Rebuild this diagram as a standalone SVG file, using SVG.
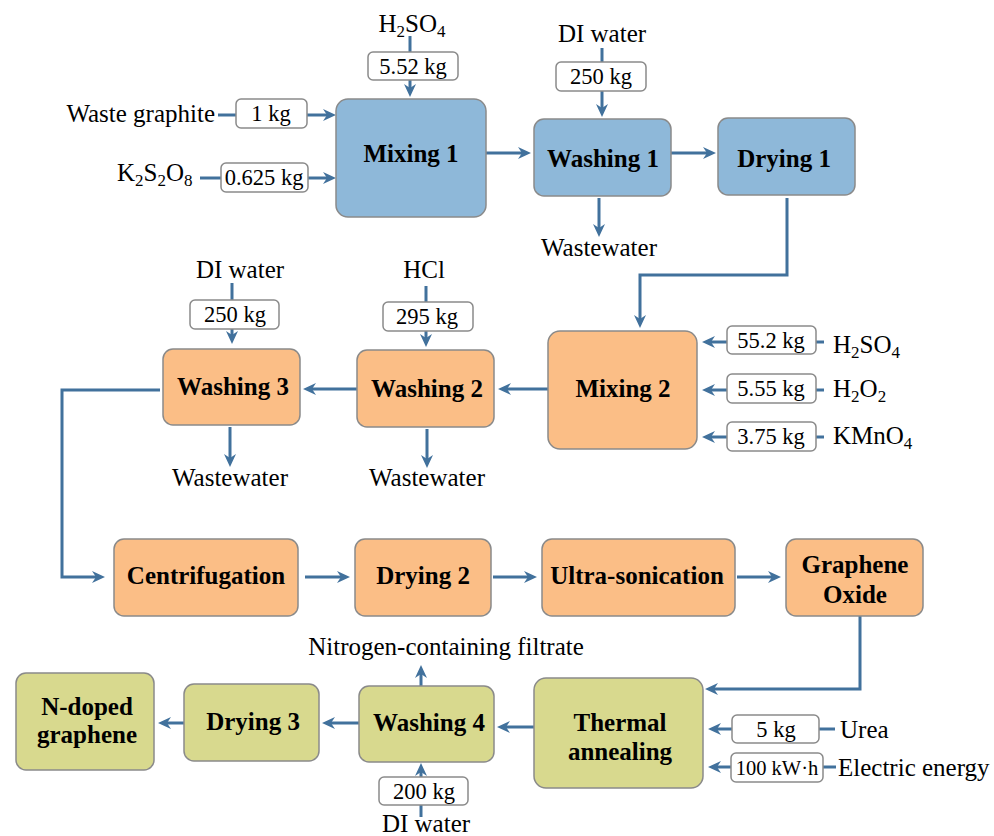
<svg xmlns="http://www.w3.org/2000/svg" width="994" height="836" viewBox="0 0 994 836">
<defs>
<style>
.b{fill:#8EB8D9;stroke:#8A8A8A;stroke-width:1.5}
.o{fill:#FBBE86;stroke:#8A8A8A;stroke-width:1.5}
.g{fill:#D8D98E;stroke:#8A8A8A;stroke-width:1.5}
.q{fill:#fff;stroke:#8A8A8A;stroke-width:1.5}
.c{fill:none;stroke:#41719C;stroke-width:3}
.a{marker-end:url(#ah)}
text{font-family:"Liberation Serif","Times New Roman",serif;fill:#000}
.n{font-size:25px;font-weight:bold;text-anchor:middle}
.t{font-size:25px}
.m{text-anchor:middle}
.k{font-size:22.5px;text-anchor:middle}
.s{font-size:17px}
</style>
<marker id="ah" markerUnits="userSpaceOnUse" markerWidth="14" markerHeight="14" viewBox="0 0 14 14" refX="8" refY="7" orient="auto">
<path d="M0,1 L13,7 L0,13 L4,7 z" fill="#41719C"/>
</marker>
</defs>
<rect width="994" height="836" fill="#fff"/>

<g id="connectors">
<path class="c" d="M410,36 V52"/>
<path class="c a" d="M410,80 V92"/>
<path class="c" d="M218,115 H236"/>
<path class="c a" d="M307,115 H331"/>
<path class="c" d="M200,178 H221"/>
<path class="c a" d="M308,178 H331"/>
<path class="c a" d="M486,153 H526"/>
<path class="c" d="M602,48 V62"/>
<path class="c a" d="M602,91 V112"/>
<path class="c a" d="M671,153 H711"/>
<path class="c a" d="M599,198 V232"/>
<path class="c a" d="M787,198 V275 H640 V323"/>
<path class="c" d="M824,342 H816"/>
<path class="c a" d="M727,342 H707"/>
<path class="c" d="M824,390 H816"/>
<path class="c a" d="M727,390 H707"/>
<path class="c" d="M824,437 H816"/>
<path class="c a" d="M727,437 H707"/>
<path class="c a" d="M548,389 H503"/>
<path class="c" d="M426,286 V302"/>
<path class="c a" d="M426,331 V342"/>
<path class="c" d="M232,283 V300"/>
<path class="c a" d="M232,329 V339"/>
<path class="c a" d="M357,389 H308"/>
<path class="c a" d="M427,429 V463"/>
<path class="c a" d="M230,427 V462"/>
<path class="c a" d="M160,390 H62 V577 H100"/>
<path class="c a" d="M305,577 H345"/>
<path class="c a" d="M493,577 H532"/>
<path class="c a" d="M737,577 H776"/>
<path class="c a" d="M860,616 V689 H710"/>
<path class="c" d="M835,729 H819"/>
<path class="c a" d="M732,729 H713"/>
<path class="c" d="M836,767 H823"/>
<path class="c a" d="M731,767 H713"/>
<path class="c a" d="M534,727 H502"/>
<path class="c a" d="M421,686 V670"/>
<path class="c" d="M421,817 V805"/>
<path class="c a" d="M421,777 V768"/>
<path class="c a" d="M359,723 H327"/>
<path class="c a" d="M184,723 H163"/>
</g>

<g id="mixing1"><rect class="b" x="336" y="99" width="150" height="118" rx="12"/><text class="n" x="411" y="162">Mixing 1</text></g>
<g id="washing1"><rect class="b" x="534" y="119" width="137" height="77" rx="10"/><text class="n" x="603" y="167">Washing 1</text></g>
<g id="drying1"><rect class="b" x="718" y="118" width="137" height="77" rx="10"/><text class="n" x="784" y="167">Drying 1</text></g>
<g id="mixing2"><rect class="o" x="548" y="331" width="149" height="118" rx="12"/><text class="n" x="623" y="397">Mixing 2</text></g>
<g id="washing2"><rect class="o" x="357" y="350" width="137" height="77" rx="10"/><text class="n" x="427" y="397">Washing 2</text></g>
<g id="washing3"><rect class="o" x="163" y="349" width="137" height="76" rx="10"/><text class="n" x="233" y="395">Washing 3</text></g>
<g id="centrifugation"><rect class="o" x="114" y="539" width="184" height="77" rx="10"/><text class="n" x="206" y="584">Centrifugation</text></g>
<g id="drying2"><rect class="o" x="355" y="539" width="136" height="77" rx="10"/><text class="n" x="423" y="584">Drying 2</text></g>
<g id="ultrasonication"><rect class="o" x="542" y="539" width="193" height="77" rx="10"/><text class="n" x="637" y="584">Ultra-sonication</text></g>
<g id="grapheneoxide"><rect class="o" x="786" y="539" width="137" height="77" rx="10"/><text class="n" x="855" y="573">Graphene</text><text class="n" x="855" y="603">Oxide</text></g>
<g id="thermal"><rect class="g" x="534" y="678" width="169" height="110" rx="12"/><text class="n" x="620" y="731">Thermal</text><text class="n" x="620" y="760">annealing</text></g>
<g id="washing4"><rect class="g" x="359" y="686" width="135" height="76" rx="10"/><text class="n" x="429" y="731">Washing 4</text></g>
<g id="drying3"><rect class="g" x="184" y="684" width="135" height="77" rx="10"/><text class="n" x="253" y="730">Drying 3</text></g>
<g id="ndoped"><rect class="g" x="16" y="673" width="138" height="97" rx="10"/><text class="n" x="87" y="715">N-doped</text><text class="n" x="87" y="743">graphene</text></g>

<g id="in-h2so4-1"><text class="t m" x="412" y="32">H<tspan class="s" dy="5">2</tspan><tspan dy="-5">SO</tspan><tspan class="s" dy="5">4</tspan></text><rect class="q" x="368" y="52" width="90" height="28" rx="5"/><text class="k" x="413" y="74">5.52 kg</text></g>
<g id="in-graphite"><text class="t" x="215" y="122" text-anchor="end">Waste graphite</text><rect class="q" x="236" y="99" width="71" height="29" rx="5"/><text class="k" x="271" y="121">1 kg</text></g>
<g id="in-k2s2o8"><text class="t" x="117" y="181">K<tspan class="s" dy="5">2</tspan><tspan dy="-5">S</tspan><tspan class="s" dy="5">2</tspan><tspan dy="-5">O</tspan><tspan class="s" dy="5">8</tspan></text><rect class="q" x="221" y="163" width="87" height="29" rx="5"/><text class="k" x="264" y="185">0.625 kg</text></g>
<g id="in-water1"><text class="t m" x="602" y="42">DI water</text><rect class="q" x="556" y="62" width="90" height="29" rx="5"/><text class="k" x="601" y="84">250 kg</text></g>
<g id="out-ww1"><text class="t m" x="599" y="256">Wastewater</text></g>
<g id="in-h2so4-2"><rect class="q" x="727" y="326" width="89" height="28" rx="5"/><text class="k" x="771" y="348">55.2 kg</text><text class="t" x="833" y="353">H<tspan class="s" dy="5">2</tspan><tspan dy="-5">SO</tspan><tspan class="s" dy="5">4</tspan></text></g>
<g id="in-h2o2"><rect class="q" x="727" y="374" width="89" height="29" rx="5"/><text class="k" x="771" y="396">5.55 kg</text><text class="t" x="833" y="397">H<tspan class="s" dy="5">2</tspan><tspan dy="-5">O</tspan><tspan class="s" dy="5">2</tspan></text></g>
<g id="in-kmno4"><rect class="q" x="727" y="422" width="89" height="29" rx="5"/><text class="k" x="771" y="444">3.75 kg</text><text class="t" x="833" y="444">KMnO<tspan class="s" dy="5">4</tspan></text></g>
<g id="in-hcl"><text class="t m" x="424" y="278">HCl</text><rect class="q" x="383" y="302" width="90" height="29" rx="5"/><text class="k" x="427" y="324">295 kg</text></g>
<g id="in-water2"><text class="t m" x="240" y="278">DI water</text><rect class="q" x="190" y="300" width="89" height="29" rx="5"/><text class="k" x="235" y="322">250 kg</text></g>
<g id="out-ww2"><text class="t m" x="427" y="486">Wastewater</text></g>
<g id="out-ww3"><text class="t m" x="230" y="486">Wastewater</text></g>
<g id="out-filtrate"><text class="t m" x="446" y="655">Nitrogen-containing filtrate</text></g>
<g id="in-water3"><rect class="q" x="379" y="777" width="89" height="28" rx="5"/><text class="k" x="424" y="799">200 kg</text><text class="t m" x="426" y="832">DI water</text></g>
<g id="in-urea"><rect class="q" x="732" y="715" width="87" height="28" rx="5"/><text class="k" x="776" y="737">5 kg</text><text class="t" x="840" y="738">Urea</text></g>
<g id="in-energy"><rect class="q" x="731" y="753" width="92" height="29" rx="5"/><text class="k" x="777" y="775" style="font-size:20.5px">100 kW·h</text><text class="t" x="838" y="776">Electric energy</text></g>
</svg>
